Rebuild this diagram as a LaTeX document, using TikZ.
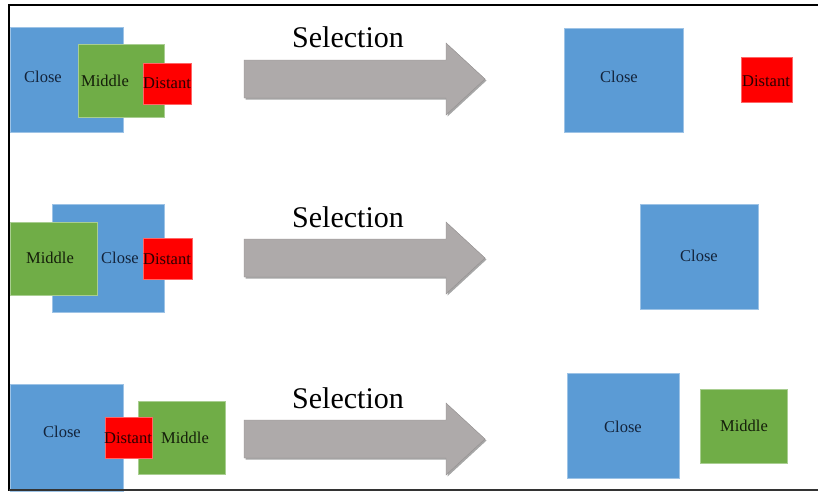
\documentclass[tikz,border=0pt]{standalone}
\usepackage{fontspec}
\setmainfont{Liberation Serif}
\usetikzlibrary{shadows}
\definecolor{cblue}{HTML}{5B9BD5}
\definecolor{cgreen}{HTML}{70AD47}
\definecolor{cred}{HTML}{FF0000}
\definecolor{cgray}{HTML}{AEAAAA}
\definecolor{bluetext}{HTML}{13233A}
\definecolor{greentext}{HTML}{141E0A}
\definecolor{redtext}{HTML}{2A0000}
\tikzset{
  box/.style={draw=#1!60!white, line width=0.6pt, fill=#1, inner sep=0pt},
  lbl/.style={font=\fontsize{16.5}{18}\selectfont, inner sep=0pt},
  seltext/.style={font=\fontsize{30}{34}\selectfont, inner sep=0pt},
  selarrow/.style={fill=cgray, draw=cgray!85!black, line width=0.4pt,
    drop shadow={shadow xshift=1.5pt, shadow yshift=-1.5pt, opacity=0.35, fill=black}},
  frame/.style={line width=2pt, black}
}
\newcommand{\selarr}[2]{% name, center y
  \path[selarrow] (244,#2-19) -- (446,#2-19) -- (446,#2-36) -- (485,#2) -- (446,#2+36) -- (446,#2+19) -- (244,#2+19) -- cycle;
  \coordinate (#1) at (364,#2);
}
\begin{document}
\begin{tikzpicture}[x=1pt,y=-1pt]
\useasboundingbox (0,0) rectangle (818,491);

% ---- Row 1 ----
\fill[box=cblue] (10,27) rectangle (123,132);
\fill[box=cgreen] (78,44) rectangle (164,117);
\fill[box=cred] (143,63) rectangle (191,104);
\node[lbl, text=bluetext] (c1) at (43,77) {Close};
\node[lbl, text=greentext] (m1) at (105,81) {Middle};
\node[lbl, text=redtext] (d1) at (167,83) {Distant};
\selarr{a1}{79}
\node[seltext] (s1) at (348,37) {Selection};
\fill[box=cblue] (564,28) rectangle (683,132);
\fill[box=cred] (741,57) rectangle (792,102);
\node[lbl, text=bluetext] (rc1) at (619,77) {Close};
\node[lbl, text=redtext] (rd1) at (766,81) {Distant};

% ---- Row 2 ----
\fill[box=cblue] (52,204) rectangle (164,312);
\fill[box=cgreen] (10,222) rectangle (97,295);
\fill[box=cred] (143,238) rectangle (192,279);
\node[lbl, text=greentext] (m2) at (50,258) {Middle};
\node[lbl, text=bluetext] (c2) at (120,258) {Close};
\node[lbl, text=redtext] (d2) at (167,259) {Distant};
\selarr{a2}{258}
\node[seltext] (s2) at (348,217) {Selection};
\fill[box=cblue] (640,204) rectangle (758,309);
\node[lbl, text=bluetext] (rc2) at (699,256) {Close};

% ---- Row 3 ----
\fill[box=cblue] (10,384) rectangle (123,491);
\fill[box=cgreen] (138,401) rectangle (225,474);
\fill[box=cred] (105,417) rectangle (152,458);
\node[lbl, text=bluetext] (c3) at (62,432) {Close};
\node[lbl, text=redtext] (d3) at (128,438) {Distant};
\node[lbl, text=greentext] (m3) at (185,438) {Middle};
\selarr{a3}{439}
\node[seltext] (s3) at (348,398) {Selection};
\fill[box=cblue] (567,373) rectangle (679,478);
\fill[box=cgreen] (700,389) rectangle (787,463);
\node[lbl, text=bluetext] (rc3) at (623,427) {Close};
\node[lbl, text=greentext] (rm3) at (744,426) {Middle};

% ---- frame ----
\draw[frame] (820,5) -- (9,5) -- (9,491);
\draw[line width=1.5pt, black!80] (9,490) -- (820,490);
\end{tikzpicture}
\end{document}
